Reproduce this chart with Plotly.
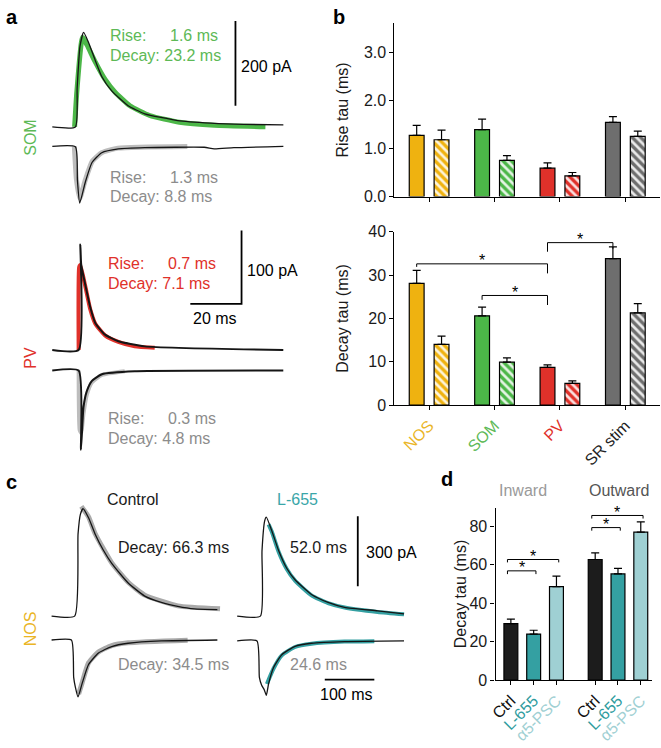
import plotly.graph_objects as go

W, H = 661, 748
FONT = "Arial, Liberation Sans, sans-serif"

NOS_C = "#EFB210"
SOM_C = "#4CB748"
PV_C = "#E0312A"
SR_C = "#6E6E6E"
GREY_TXT = "#8C8C8C"
FIT_GREY = "#BDBDBD"
TEAL = "#34A0A2"
TEAL_LT = "#9FD0D3"
CTRL_C = "#1C1C1C"

# ---- panel b data ----
groups = ["NOS", "SOM", "PV", "SR stim"]
group_colors = [NOS_C, SOM_C, PV_C, SR_C]
label_colors = ["#EAB526", "#5DB956", "#E0312A", "#222222"]
rise_solid = [1.27, 1.39, 0.59, 1.54]
rise_solid_err = [0.21, 0.22, 0.11, 0.12]
rise_hatch = [1.18, 0.75, 0.43, 1.25]
rise_hatch_err = [0.20, 0.10, 0.07, 0.11]
decay_solid = [28.1, 20.6, 8.7, 33.8]
decay_solid_err = [3.0, 2.0, 0.6, 2.7]
decay_hatch = [14.0, 9.9, 5.0, 21.3]
decay_hatch_err = [1.9, 1.0, 0.6, 2.1]
# (from group, to group, height, left drop, right drop)
decay_sig = [(0, 2, 32.6, 31.9, 30.4), (1, 2, 25.3, 24.3, 23.1), (2, 3, 37.5, 35.4, 36.1)]

# ---- panel d data ----
d_labels = ["Ctrl", "L-655", "α5-PSC"]
d_colors = [CTRL_C, TEAL, TEAL_LT]
d_label_colors = ["#111111", "#2E9C9E", "#9FD0D3"]
inward = [29.4, 23.9, 48.6]
inward_err = [2.3, 2.0, 5.5]
outward = [62.7, 55.2, 76.9]
outward_err = [3.4, 2.9, 5.4]
d_sig = [(0, 2, 62.7, 61.2), (0, 1, 56.8, 55.1), (3, 5, 85.6, 84.0), (3, 4, 79.3, 77.7)]

# ---- traces (time in ms, current in pA) ----
som_out_t = [-9.0, 0, 0.7, 1.8, 3.2, 5.1, 7.7, 10.3, 14.2, 20.6, 27.1, 40.0, 52.9, 65.8, 81.2]
som_out_i = [0, 0, 92, 190, 223, 200, 158, 119, 85, 50, 31, 15, 9, 6, 5]
som_fit_out_t = [-0.3, 0.6, 2.8, 4.6, 7.7, 11.6, 15.5, 21.3, 29.0, 40.6, 54.2, 74.2]
som_fit_out_i = [0, 85, 212, 193, 154, 112, 82, 50, 27, 11, 4, 0.5]
som_in_t = [-9.0, 0, 0.8, 1.7, 3.9, 6.5, 10.3, 16.8, 27.1, 50.3, 54.2, 61.9, 81.2]
som_in_i = [0, -1, -80, -134, -84, -38, -15, -6, -3, -2, -6, -3, 0]
som_fit_in_t = [-0.4, 0.4, 1.7, 3.9, 6.6, 10.4, 16.6, 43.7]
som_fit_in_i = [0, -77, -123, -79, -35, -14.5, -4, 0]

pv_out_t = [-10.3, 0, 0.66, 1.0, 2.6, 4.5, 6.5, 10.3, 15.5, 25.8, 79.9]
pv_out_i = [0, 0, 144, 117, 89, 59, 37, 21, 12, 5, 0]
pv_fit_out_t = [0, 0.2, 0.66, 2.6, 4.5, 6.5, 10.3, 15.5, 21.9, 29.7]
pv_fit_out_i = [0, 113, 116, 87, 56, 36, 20, 11, 5, 3]
pv_in_t = [-10.3, 0, 0.9, 1.9, 3.2, 5.2, 9.1, 21.9, 79.9]
pv_in_i = [0, 0, -108, -50, -28, -14, -5, -1, 0]
pv_fit_in_t = [0, 0.4, 1.0, 1.9, 3.2, 5.2, 9.1, 18.0]
pv_fit_in_i = [0, -81, -85, -59, -33, -16, -6, -1]

ctl_out_t = [-46.6, 0, 6.8, 11.4, 16.8, 28, 41.4, 58, 74.8, 108, 141.4, 174.8, 208, 241.4, 288]
ctl_out_i = [0, 0, 351, 435, 460, 421, 351, 282, 226, 142, 86, 59, 42, 31, 28]
ctl_fit_out_t = [13.4, 28, 41.4, 74.8, 108, 141.4, 208, 293.4]
ctl_fit_out_i = [470, 425, 353, 228, 145, 90, 44, 32]
ctl_in_t = [-46.6, -6.6, -2, 1.4, 6.8, 14.8, 28, 48, 74.8, 108, 174.8, 288]
ctl_in_i = [0, 0, -160, -202, -244, -188, -105, -56, -28, -14, -4, 0]
ctl_fit_in_t = [8, 14.8, 28, 48, 74.8, 108, 228]
ctl_fit_in_i = [-231, -185, -98, -51, -24, -12, -1]

l655_out_t = [-46.8, 0, 3.3, 8.6, 12, 23.2, 36.6, 53.2, 70, 103.2, 136.6, 170, 236.6, 290]
l655_out_i = [0, 0, 279, 407, 424, 365, 282, 205, 156, 93, 59, 38, 23, 10]
l655_fit_out_t = [16.6, 23.2, 36.6, 53.2, 70, 103.2, 136.6, 170, 236.6, 290]
l655_fit_out_i = [393, 361, 277, 202, 152, 89, 56, 37, 18, 8]
l655_in_t = [-46.8, -6.8, -2, 2.6, 8, 12, 16.6, 26.6, 43.2, 70, 103.2, 170, 290]
l655_in_i = [0, 0, -156, -190, -210, -233, -184, -114, -59, -23, -10, -3, 0]
l655_fit_in_t = [13.2, 26.6, 43.2, 70, 103.2, 170, 230]
l655_fit_in_i = [-184, -118, -62, -26, -12, -3, -1]


def xdom(p0, p1):
    return [p0 / W, p1 / W]


def ydom(p_top, p_bot):
    return [1 - p_bot / H, 1 - p_top / H]


fig = go.Figure()

# ---------- panel b bars ----------
OFF, BW = 0.19, 0.227
for ax, solid, serr, hatch, herr in [("", rise_solid, rise_solid_err, rise_hatch, rise_hatch_err),
                                     ("2", decay_solid, decay_solid_err, decay_hatch, decay_hatch_err)]:
    for g in range(4):
        fig.add_trace(go.Bar(
            x=[g - OFF], y=[solid[g]], width=BW, xaxis="x" + ax, yaxis="y" + ax,
            marker=dict(color=group_colors[g], line=dict(color="black", width=1.2)),
            error_y=dict(type="data", symmetric=False, array=[serr[g]], arrayminus=[0],
                         color="black", thickness=1.2, width=4)))
        fig.add_trace(go.Bar(
            x=[g + OFF], y=[hatch[g]], width=BW, xaxis="x" + ax, yaxis="y" + ax,
            marker=dict(color=group_colors[g], line=dict(color="black", width=1.2),
                        pattern=dict(shape="\\", bgcolor=group_colors[g], fgcolor="white",
                                     fgopacity=0.85, size=6, solidity=0.45)),
            error_y=dict(type="data", symmetric=False, array=[herr[g]], arrayminus=[0],
                         color="black", thickness=1.2, width=4)))

for a, b, h, dl, dr in decay_sig:
    x0, x1 = a - OFF, b - OFF
    fig.add_trace(go.Scatter(x=[x0, x0, x1, x1], y=[dl, h, h, dr], mode="lines",
                             line=dict(color="black", width=1), xaxis="x2", yaxis="y2"))
    fig.add_annotation(x=(x0 + x1) / 2, y=h, xref="x2", yref="y2", text="*", showarrow=False,
                       yanchor="middle", yshift=3, font=dict(family=FONT, size=16, color="black"))

# ---------- panel d bars ----------
d_pos = [0, 1, 2, 3.7, 4.7, 5.7]
d_vals = inward + outward
d_errs = inward_err + outward_err
for i in range(6):
    fig.add_trace(go.Bar(
        x=[d_pos[i]], y=[d_vals[i]], width=0.61, xaxis="x3", yaxis="y3",
        marker=dict(color=d_colors[i % 3], line=dict(color="black", width=1.2)),
        error_y=dict(type="data", symmetric=False, array=[d_errs[i]], arrayminus=[0],
                     color="black", thickness=1.2, width=4)))
for a, b, h, d in d_sig:
    x0, x1 = d_pos[a] - 0.15, d_pos[b] + 0.1
    fig.add_trace(go.Scatter(x=[x0, x0, x1, x1], y=[d, h, h, d], mode="lines",
                             line=dict(color="black", width=1), xaxis="x3", yaxis="y3"))
    fig.add_annotation(x=(x0 + x1) / 2, y=h, xref="x3", yref="y3", text="*", showarrow=False,
                       yanchor="middle", yshift=3, font=dict(family=FONT, size=16, color="black"))


# ---------- traces ----------
def add_pair(ax, t_raw, i_raw, t_fit, i_fit, fit_color, fit_w, offset=0, raw_w=1.3):
    fig.add_trace(go.Scatter(x=t_fit, y=[v + offset for v in i_fit], mode="lines",
                             line=dict(color=fit_color, width=fit_w, shape="spline", smoothing=0.5),
                             xaxis="x" + ax, yaxis="y" + ax))
    fig.add_trace(go.Scatter(x=t_raw, y=[v + offset for v in i_raw], mode="lines",
                             line=dict(color="#151515", width=raw_w, shape="spline", smoothing=0.5),
                             xaxis="x" + ax, yaxis="y" + ax))


def add_bar_line(ax, xs, ys):
    fig.add_trace(go.Scatter(x=xs, y=ys, mode="lines", line=dict(color="black", width=1.8),
                             xaxis="x" + ax, yaxis="y" + ax))


add_pair("4", som_out_t, som_out_i, som_fit_out_t, som_fit_out_i, SOM_C, 5)
add_pair("4", som_in_t, som_in_i, som_fit_in_t, som_fit_in_i, FIT_GREY, 5, offset=-46)
add_bar_line("4", [62.5, 62.5], [50, 250])

add_pair("5", pv_out_t, pv_out_i, pv_fit_out_t, pv_fit_out_i, PV_C, 4, raw_w=2)
add_pair("5", pv_in_t, pv_in_i, pv_fit_in_t, pv_fit_in_i, FIT_GREY, 4, offset=-28, raw_w=2)
add_bar_line("5", [43.6, 63.6, 63.6], [63, 63, 163])

add_pair("6", ctl_out_t, ctl_out_i, ctl_fit_out_t, ctl_fit_out_i, "#AAAAAA", 5)
add_pair("6", ctl_in_t, ctl_in_i, ctl_fit_in_t, ctl_fit_in_i, "#AAAAAA", 5, offset=-102)

add_pair("7", l655_out_t, l655_out_i, l655_fit_out_t, l655_fit_out_i, TEAL, 4)
add_pair("7", l655_in_t, l655_in_i, l655_fit_in_t, l655_fit_in_i, TEAL, 4, offset=-106)
add_bar_line("7", [196.6, 196.6], [128, 428])
add_bar_line("7", [130, 230], [-272, -272])

# ---------- axes ----------
tick_font = dict(family=FONT, size=16, color="#1a1a1a")
common = dict(showline=True, linecolor="black", linewidth=1.2, ticks="outside", ticklen=4,
              tickcolor="black", tickwidth=1.2, showgrid=False, zeroline=False, fixedrange=True,
              tickfont=tick_font)


def trace_axes(p0, p1, pt, pb, t0_px, px_per_ms, base_py, px_per_pa):
    xa = dict(domain=xdom(p0, p1), range=[(p0 - t0_px) / px_per_ms, (p1 - t0_px) / px_per_ms],
              visible=False, fixedrange=True)
    ya = dict(domain=ydom(pt, pb), range=[(base_py - pb) / px_per_pa, (base_py - pt) / px_per_pa],
              visible=False, fixedrange=True)
    return xa, ya


b_ticks = [f"<span style='color:{c}'>{g}</span>" for g, c in zip(groups, label_colors)]
d_ticks = [f"<span style='color:{d_label_colors[i % 3]}'>{d_labels[i % 3]}</span>" for i in range(6)]

x4, y4 = trace_axes(40, 300, 10, 215, 70, 2.585, 121.7, 0.4335)
x5, y5 = trace_axes(40, 300, 225, 465, 73.3, 2.585, 350, 0.75)
x6, y6 = trace_axes(40, 226, 505, 715, 69.3, 0.5, 622.3, 0.239)
x7, y7 = trace_axes(228, 410, 505, 715, 256.7, 0.5, 622.3, 0.239)

fig.update_layout(
    width=W, height=H, margin=dict(l=0, r=0, t=0, b=0),
    paper_bgcolor="white", plot_bgcolor="white", showlegend=False, barmode="overlay",
    font=dict(family=FONT, size=16, color="black"),
    xaxis=dict(domain=xdom(392, 660), range=[-0.53, 3.53], tickvals=[0, 1, 2, 3],
               showticklabels=False, anchor="y", **common),
    yaxis=dict(domain=ydom(15, 193), range=[0, 3.61], tickvals=[0, 1, 2, 3],
               ticktext=["0.0", "1.0", "2.0", "3.0"], anchor="x", **common),
    xaxis2=dict(domain=xdom(392, 660), range=[-0.53, 3.53], tickvals=[0, 1, 2, 3],
                ticktext=b_ticks, tickangle=-45, anchor="y2", **common),
    yaxis2=dict(domain=ydom(229, 406.3), range=[0, 40], tickvals=[0, 10, 20, 30, 40],
                anchor="x2", **common),
    xaxis3=dict(domain=xdom(494, 652), range=[-0.674, 6.196], tickvals=d_pos,
                ticktext=d_ticks, tickangle=-45, anchor="y3", **common),
    yaxis3=dict(domain=ydom(511.7, 687.7), range=[0, 89.45], tickvals=[0, 20, 40, 60, 80],
                anchor="x3", **common),
    xaxis4=dict(anchor="y4", **x4), yaxis4=dict(anchor="x4", **y4),
    xaxis5=dict(anchor="y5", **x5), yaxis5=dict(anchor="x5", **y5),
    xaxis6=dict(anchor="y6", **x6), yaxis6=dict(anchor="x6", **y6),
    xaxis7=dict(anchor="y7", **x7), yaxis7=dict(anchor="x7", **y7),
)


def label(text, px, py, color="black", size=16, xanchor="left", angle=0):
    fig.add_annotation(x=px / W, y=1 - py / H, xref="paper", yref="paper", text=text,
                       showarrow=False, xanchor=xanchor, yanchor="middle", textangle=angle,
                       font=dict(family=FONT, size=size, color=color))


# panel letters
for ch, px, py in [("a", 6, 9), ("b", 336, 9), ("c", 6, 485), ("d", 445, 482)]:
    label(f"<b>{ch}</b>", px, py, size=20, xanchor="center")

# panel a texts
SOM_T = "#5DB956"
label("Rise:", 103, 28.3, SOM_T)
label("1.6 ms", 163, 28.3, SOM_T)
label("Decay: 23.2 ms", 103, 48.3, SOM_T)
label("Rise:", 103, 173.3, GREY_TXT)
label("1.3 ms", 163.7, 173.3, GREY_TXT)
label("Decay: 8.8 ms", 103, 193.3, GREY_TXT)
label("200 pA", 235, 60)
label("SOM", 25, 133, SOM_T, xanchor="center", angle=-90)

label("Rise:", 101.3, 261.7, PV_C)
label("0.7 ms", 161.3, 261.7, PV_C)
label("Decay: 7.1 ms", 101.3, 281.7, PV_C)
label("Rise:", 101.3, 420, GREY_TXT)
label("0.3 ms", 161.3, 420, GREY_TXT)
label("Decay: 4.8 ms", 101.3, 440, GREY_TXT)
label("100 pA", 241, 268.3)
label("20 ms", 186.5, 317.3)
label("PV", 25, 358, PV_C, xanchor="center", angle=-90)

# panel c texts
label("Control", 128.3, 502.7, "#1a1a1a", xanchor="center")
label("L-655", 294, 502.7, "#3AA6A8", xanchor="center")
label("Decay: 66.3 ms", 111, 551.7, "#1a1a1a")
label("Decay: 34.5 ms", 111, 671.7, GREY_TXT)
label("52.0 ms", 284.5, 551.7, "#1a1a1a")
label("24.6 ms", 284.5, 671.7, GREY_TXT)
label("300 pA", 361, 557.3)
label("100 ms", 315, 702.7)
label("NOS", 25, 635, "#EAB526", xanchor="center", angle=-90)

# panel b / d titles
label("Rise tau (ms)", 340, 104, "#1a1a1a", xanchor="center", angle=-90)
label("Decay tau (ms)", 340, 318, "#1a1a1a", xanchor="center", angle=-90)
label("Decay tau (ms)", 459, 600, "#1a1a1a", xanchor="center", angle=-90)
label("Inward", 521.7, 494, "#9A9A9A", xanchor="center")
label("Outward", 619, 494, "#555555", xanchor="center")

# the page body has a default 8px margin; drop it so the figure sits at the window corner
fig.write_html("out.html", config={"displayModeBar": False},
               post_script="document.body.style.margin='0';document.body.style.overflow='hidden';")
